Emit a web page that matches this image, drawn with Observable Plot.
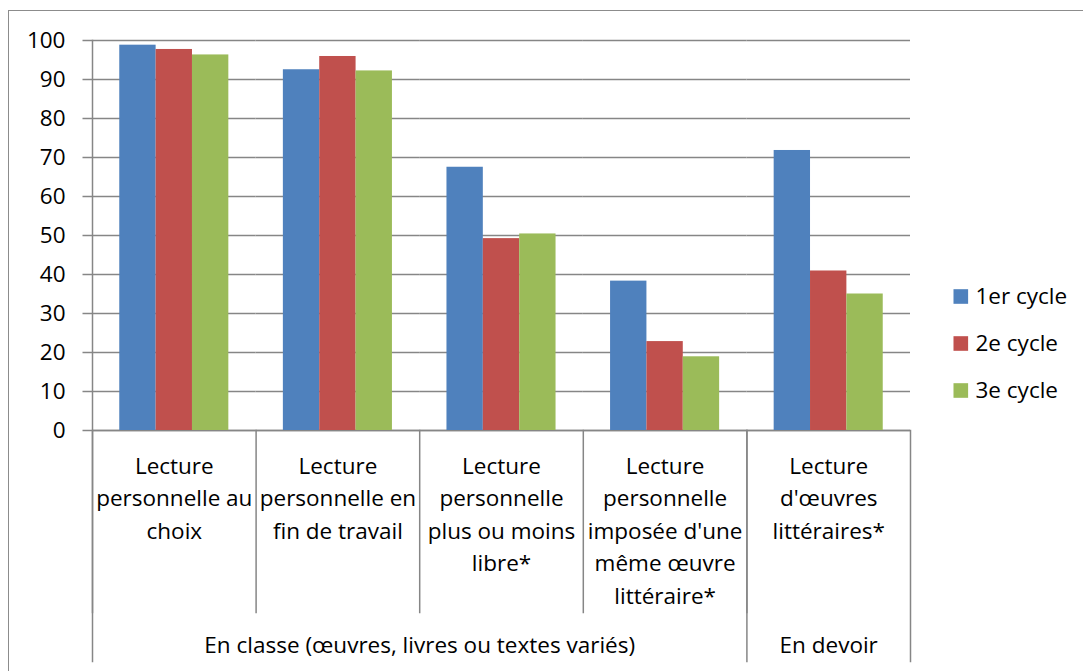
<!DOCTYPE html>
<html>
<head>
<meta charset="utf-8">
<script src="https://cdn.jsdelivr.net/npm/d3@7"></script>
<script src="https://cdn.jsdelivr.net/npm/@observablehq/plot@0.6"></script>
<style>
  html, body { margin: 0; padding: 0; background: #ffffff; }
  body { width: 1083px; height: 671px; position: relative; overflow: hidden; font-family: "Open Sans", sans-serif; }
  #border { position: absolute; left: 8px; top: 10px; width: 1200px; height: 800px;
            border-top: 1.5px solid #8c8c8c; border-left: 1.5px solid #8c8c8c; box-sizing: border-box; }
  #chart { position: absolute; left: 0; top: 0; }
  #legend { position: absolute; left: 940px; top: 270px; }
  svg { overflow: visible; }
</style>
</head>
<body>
<div id="border"></div>
<div id="chart"></div>
<div id="legend"></div>
<script>
// ---- data ----
const categories = [
  "Lecture personnelle au choix",
  "Lecture personnelle en fin de travail",
  "Lecture personnelle plus ou moins libre*",
  "Lecture personnelle imposée d'une même œuvre littéraire*",
  "Lecture d'œuvres littéraires*"
];
const categoryLabels = [
  "Lecture\npersonnelle au\nchoix",
  "Lecture\npersonnelle en\nfin de travail",
  "Lecture\npersonnelle\nplus ou moins\nlibre*",
  "Lecture\npersonnelle\nimposée d'une\nmême œuvre\nlittéraire*",
  "Lecture\nd'œuvres\nlittéraires*"
];
const groups = ["En classe (œuvres, livres ou textes variés)", "En devoir"];
const categoryGroup = [0, 0, 0, 0, 1];
const cycles = ["1er cycle", "2e cycle", "3e cycle"];
const cycle1 = [98.8, 92.5, 67.5, 38.3, 71.8];
const cycle2 = [97.7, 95.9, 49.2, 22.8, 40.9];
const cycle3 = [96.3, 92.2, 50.4, 18.9, 35.0];
const yTicks = [0, 10, 20, 30, 40, 50, 60, 70, 80, 90, 100];
const colors = ["#4F81BD", "#C0504D", "#9BBB59"];

// ---- derived tables ----
const seriesValues = [cycle1, cycle2, cycle3];
const rows = [];
categories.forEach((c, i) => cycles.forEach((s, j) => rows.push({cat: c, cycle: s, value: seriesValues[j][i]})));
const catRows = categories.map((c, i) => ({cat: c, label: categoryLabels[i]}));
const groupRows = groups.map((g, gi) => {
  const members = categories.filter((c, i) => categoryGroup[i] === gi);
  const n = members.length;
  return {label: g, even: n % 2 === 0, anchorCat: members[Math.floor(n / 2)], first: members[0], last: members[n - 1]};
});

// ---- layout ----
const W = 1083, H = 671;
const mTop = 40, mBottom = 241, mLeft = 92, mRight = 173;
const innerH = H - mTop - mBottom;
const gray = "#868686";
const FS = 22.5;
const lineStyle = {stroke: gray, strokeWidth: 1.5};
const shortDrop = 182, longDrop = 231;

const marks = [
  Plot.gridY(yTicks, {stroke: gray, strokeOpacity: 1, strokeWidth: 1.5}),
  Plot.ruleY([0], lineStyle),
  Plot.barY(rows, {fx: "cat", x: "cycle", y: "value", fill: "cycle"}),
  Plot.axisY({ticks: yTicks, label: null, tickSize: 9.5, tickPadding: 17.5, fontSize: FS, stroke: gray, strokeWidth: 1.5, fill: "black", tickFormat: d => String(d)}),
  // inner category separators below the axis
  Plot.frame({anchor: "left", insetTop: innerH, insetBottom: -shortDrop, ...lineStyle}),
  // y axis line + left outer separator
  Plot.frame({anchor: "left", fx: () => categories[0], insetBottom: -longDrop, ...lineStyle}),
  // category labels
  Plot.text(catRows, {fx: "cat", text: "label", frameAnchor: "bottom", lineAnchor: "top", dy: 20.2, lineHeight: 1.444, fontSize: FS, fill: "black"}),
  // group labels
  Plot.text(groupRows.filter(d => d.even), {fx: "anchorCat", text: "label", frameAnchor: "bottom-left", textAnchor: "middle", lineAnchor: "top", dy: 206.8, fontSize: FS, fill: "black"}),
  Plot.text(groupRows.filter(d => !d.even), {fx: "anchorCat", text: "label", frameAnchor: "bottom", textAnchor: "middle", lineAnchor: "top", dy: 206.8, fontSize: FS, fill: "black"})
];
// group separators (long lines)
groupRows.forEach((g, i) => {
  if (i > 0) marks.push(Plot.frame({anchor: "left", fx: () => g.first, insetTop: innerH, insetBottom: -longDrop, ...lineStyle}));
  if (i === groupRows.length - 1) marks.push(Plot.frame({anchor: "right", fx: () => g.last, insetTop: innerH, insetBottom: -longDrop, ...lineStyle}));
});

const chart = Plot.plot({
  width: W,
  height: H,
  marginTop: mTop,
  marginBottom: mBottom,
  marginLeft: mLeft,
  marginRight: mRight,
  style: {fontFamily: "Open Sans", fontSize: FS + "px", color: "black", background: "transparent", overflow: "visible"},
  fx: {domain: categories, padding: 0, round: false, axis: null},
  x: {domain: cycles, paddingInner: 0, paddingOuter: 0.75, round: false, axis: null},
  y: {domain: [0, 100], axis: null},
  color: {domain: cycles, range: colors},
  marks
});
document.getElementById("chart").appendChild(chart);

// ---- legend ----
const legend = Plot.plot({
  width: 143,
  height: 150,
  marginTop: 25.7,
  marginBottom: 28.7,
  marginLeft: 20.3,
  marginRight: 0,
  style: {fontFamily: "Open Sans", fontSize: FS + "px", color: "black", background: "transparent", overflow: "visible"},
  x: {axis: null},
  y: {type: "point", domain: cycles, padding: 0, axis: null},
  color: {domain: cycles, range: colors},
  marks: [
    Plot.dot(cycles, {y: d => d, fill: d => d, symbol: "square", r: 8.25, frameAnchor: "left"}),
    Plot.text(cycles, {y: d => d, text: d => d, frameAnchor: "left", textAnchor: "start", dx: 14.7, fontSize: FS, fill: "black"})
  ]
});
document.getElementById("legend").appendChild(legend);
</script>
</body>
</html>
